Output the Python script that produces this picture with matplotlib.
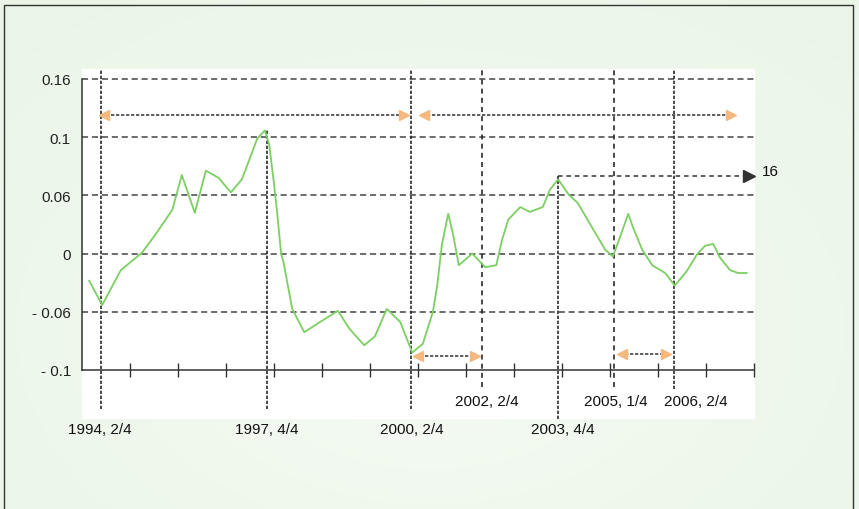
import numpy as np
import matplotlib.pyplot as plt

plt.rcParams['font.family'] = ['Liberation Sans', 'DejaVu Sans']

# y axis labels (the original axis is spaced evenly per label, not linearly)
levels = [-0.1, -0.06, 0, 0.06, 0.1, 0.16]
level_labels = ['- 0.1', '- 0.06', '0', '0.06', '0.1', '0.16']

# growth series (fractional year, value)
years = [1994.15, 1994.42, 1994.81, 1995.25, 1995.52, 1995.88, 1996.08, 1996.35,
         1996.58, 1996.85, 1997.10, 1997.33, 1997.48, 1997.65, 1997.81, 1997.90,
         1998.00, 1998.06, 1998.15, 1998.19, 1998.38, 1998.63, 1998.96, 1999.33,
         1999.58, 1999.88, 2000.10, 2000.35, 2000.63, 2000.88, 2001.10, 2001.31,
         2001.40, 2001.50, 2001.63, 2001.73, 2001.85, 2002.13, 2002.40, 2002.63,
         2002.75, 2002.88, 2003.13, 2003.33, 2003.60, 2003.75, 2003.92, 2004.13,
         2004.33, 2004.65, 2004.90, 2005.06, 2005.23, 2005.38, 2005.48, 2005.67,
         2005.88, 2006.15, 2006.35, 2006.60, 2006.81, 2006.98, 2007.15, 2007.29,
         2007.50, 2007.67, 2007.85]
values = [-0.028, -0.053, -0.017, 0.001, 0.019, 0.045, 0.074, 0.042,
          0.077, 0.072, 0.062, 0.071, 0.084, 0.099, 0.107, 0.095,
          0.068, 0.045, -0.001, -0.007, -0.057, -0.074, -0.067, -0.059,
          -0.072, -0.083, -0.077, -0.057, -0.067, -0.088, -0.082, -0.060,
          -0.033, 0.010, 0.041, 0.020, -0.012, 0.000, -0.014, -0.012,
          0.014, 0.035, 0.048, 0.043, 0.048, 0.064, 0.071, 0.061,
          0.052, 0.025, 0.004, -0.003, 0.020, 0.041, 0.027, 0.004,
          -0.012, -0.020, -0.033, -0.018, -0.001, 0.008, 0.010, -0.004,
          -0.017, -0.020, -0.020]

# turning points
event_x = [1994.40, 1997.85, 2000.85, 2002.33, 2003.92, 2005.08, 2006.33]
event_labels = ['1994, 2/4', '1997, 4/4', '2000, 2/4', '2002, 2/4',
                '2003, 4/4', '2005, 1/4', '2006, 2/4']
peak_label = '16'

pos = np.arange(len(levels))


def fwd(v):
    v = np.asarray(v, dtype=float)
    p = np.interp(v, levels, pos)
    p = np.where(v < levels[0], (v - levels[0]) / 0.04, p)
    p = np.where(v > levels[-1], pos[-1] + (v - levels[-1]) / 0.06, p)
    return p


def inv(p):
    p = np.asarray(p, dtype=float)
    v = np.interp(p, pos, levels)
    v = np.where(p < 0, levels[0] + p * 0.04, v)
    v = np.where(p > pos[-1], levels[-1] + (p - pos[-1]) * 0.06, v)
    return v


fig = plt.figure(figsize=(8.59, 5.10), dpi=100)

# background gradient + frame
bg = fig.add_axes([0, 0, 1, 1], zorder=0)
yy, xx = np.mgrid[0:510, 0:859]
r = np.clip(np.sqrt(((xx - 430) / 620.0) ** 2 + ((yy - 330) / 420.0) ** 2), 0, 1)
c0 = np.array([246, 251, 244]) / 255.0
c1 = np.array([234, 245, 231]) / 255.0
img = c0[None, None, :] * (1 - r[..., None]) + c1[None, None, :] * r[..., None]
bg.imshow(img, extent=[0, 1, 0, 1], aspect='auto')
bg.axis('off')
fig.patches.append(plt.Rectangle((4 / 859, -0.1), 849 / 859, 1.088,
                                 transform=fig.transFigure, fill=False,
                                 ec='#333333', lw=1))

ax = fig.add_axes([82 / 859, 90 / 510, 673 / 859, 350 / 510], zorder=1)
ax.set_facecolor('white')
ax.set_yscale('function', functions=(fwd, inv))
ymin = float(inv(-49 / 58.2))
ymax = float(inv(pos[-1] + 10 / 58.2))
ax.set_ylim(ymin, ymax)
ax.set_xlim(1994, 1994 + 673 / 48)

for s in ['top', 'right']:
    ax.spines[s].set_visible(False)
ax.spines['left'].set_bounds(levels[0], levels[-1])
ax.spines['bottom'].set_position(('data', levels[0]))
for s in ['left', 'bottom']:
    ax.spines[s].set_linestyle((0, (2, 1)))
    ax.spines[s].set_color('#333333')
    ax.spines[s].set_linewidth(1.1)

ax.set_yticks(levels, level_labels)
ax.tick_params(axis='y', length=0, pad=8, labelsize=11, labelcolor='#222222')
ax.set_xticks(range(1995, 2009))
ax.tick_params(axis='x', direction='inout', length=10, width=1,
               color='#333333', labelbottom=False)

# horizontal grid
ax.hlines(levels[1:], 1994, 1994 + 673 / 48, colors='#444444',
          linestyles=(0, (4, 2.5)), lw=1.1, zorder=1)

# vertical turning point lines
solid = [True, True, True, False, True, False, True]
tops = [ymax, 0.107, ymax, ymax, 0.073, ymax, ymax]
bottoms = [-0.1268, -0.1268, -0.1268, -0.1117, ymin, -0.1117, -0.1131]
for x, st, t, b in zip(event_x, solid, tops, bottoms):
    ls = (0, (2, 1)) if st else (0, (3, 2.5))
    ax.vlines(x, b, t, colors='#2a2a2a', linestyles=ls, lw=1.2, zorder=2)

# labels of turning points
lab_x = [1994.375, 1997.85, 2000.875, 2002.44, 2004.02, 2005.125, 2006.79]
lab_y = [-0.1405, -0.1405, -0.1405, -0.1213, -0.1405, -0.1213, -0.1213]
for x, y, t in zip(lab_x, lab_y, event_labels):
    ax.text(x, y, t, ha='center', va='center', fontsize=11, color='#111111',
            clip_on=False, zorder=5)

# cycle arrows
orange = '#f5b87e'
arrows = [(1994.40, 2000.75, 0.123), (2001.08, 2007.58, 0.123),
          (2000.94, 2002.23, -0.0903), (2005.21, 2006.21, -0.089)]
for x0, x1, y in arrows:
    ax.plot([x0, x1], [y, y], color='#444444', lw=1.2, ls=(0, (2, 1)), zorder=3)
    ax.plot([x0 + 0.05], [y], marker='<', color=orange, ms=7, mec=orange, zorder=4)
    ax.plot([x1 - 0.05], [y], marker='>', color=orange, ms=7, mec=orange, zorder=4)

# peak reference line with arrow
ax.plot([event_x[4], 2007.85], [0.073, 0.073], color='#333333', lw=1.1,
        ls=(0, (3, 2.5)), zorder=3)
ax.plot([2007.9], [0.073], marker='>', color='#333333', ms=8, zorder=4,
        clip_on=False)
ax.text(2008.17, 0.0765, peak_label, ha='left', va='center', fontsize=11,
        color='#111111', clip_on=False)

# growth curve
ax.plot(years, values, color='#7ccf62', lw=1.3, zorder=4)

fig.savefig('out.png', dpi=100)
